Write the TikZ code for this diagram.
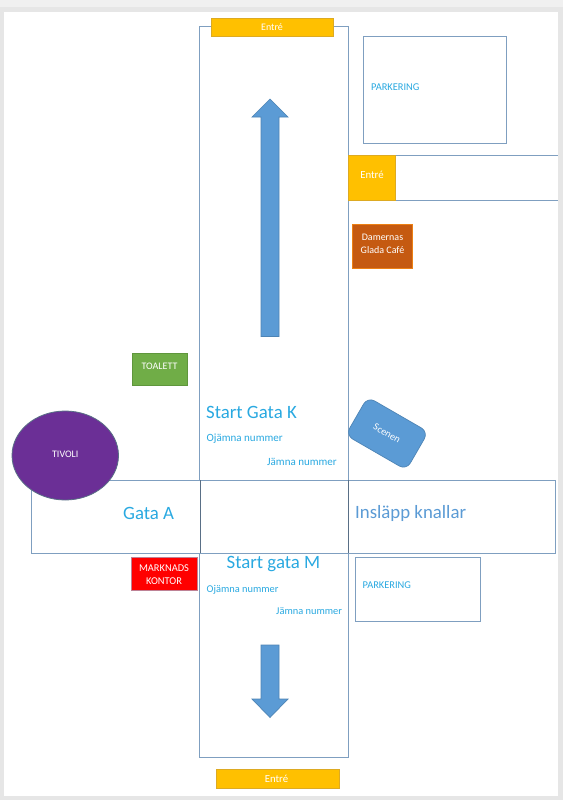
\documentclass[tikz,border=0pt]{standalone}
\usepackage{fontspec}
\setmainfont{Carlito}
\usetikzlibrary{shapes.geometric,shapes.arrows}
\definecolor{roadline}{HTML}{7F9FC0}
\definecolor{cyantext}{HTML}{29A9E1}
\definecolor{bluefill}{HTML}{5B9BD5}
\definecolor{amber}{HTML}{FFC000}
\definecolor{amberline}{HTML}{DDAA22}
\definecolor{pagebg}{HTML}{E6E6E6}
\newcommand{\fsz}[1]{\fontsize{#1}{13}\selectfont}
\tikzset{
  road/.style={draw=roadline,line width=1pt,fill=white,inner sep=0pt},
  entrybox/.style={draw=amberline,fill=amber,line width=.8pt},
  whitetext/.style={text=white,align=center,inner sep=0pt,font=\fsz{10}},
  solidbox/.style={line width=.8pt},
  small/.style={text=cyantext,font=\fsz{10.4},anchor=west,inner sep=0pt},
  big/.style={text=cyantext,font=\fontsize{18.8}{20}\selectfont,anchor=west,inner sep=0pt},
  flowarrow/.style={draw=bluefill!85!black,fill=bluefill,line width=.7pt}
}
\begin{document}
\begin{tikzpicture}[x=1pt,y=-1pt]
\useasboundingbox (0,0) rectangle (563,800);
\fill[pagebg] (0,0) rectangle (563,800);
\fill[white!94!black] (0,0) rectangle (563,7);
\fill[white] (4,12) rectangle (558,796);
% roads
\draw[road] (199.5,27) rectangle (348.5,757);
\coordinate (entryroadA) at (348.5,155);
\coordinate (entryroadB) at (558,155);
\coordinate (entryroadC) at (558,200.5);
\coordinate (entryroadD) at (348.5,200.5);
\draw[road] (entryroadA) -- (entryroadB) (entryroadD) -- (entryroadC);
\draw[road] (31.5,480) rectangle (200,553);
\draw[road] (200,480) rectangle (348.5,553);
\draw[road] (348.5,480) rectangle (555.5,553);
\draw[road,line width=1.3pt,draw=roadline!70!black] (200.3,480) -- (200.3,553) (348.5,480) -- (348.5,553);
% parking
\draw[road] (363,36.5) rectangle (506,143.5);
\draw[road] (355.5,557) rectangle (480,621.5);
\node[small] (park1) at (371,87) {PARKERING};
\node[small] (park2) at (362.5,585.5) {PARKERING};
% entries
\path[entrybox] (211,18) rectangle (333,36.5);
\node[whitetext] (entrytop) at (272,27.5) {Entré};
\path[entrybox] (348.5,155) rectangle (395.5,200.5);
\node[whitetext,font=\fsz{10.8}] (entryright) at (372,174.5) {Entré};
\path[entrybox] (216,769) rectangle (339,788.5);
\node[whitetext,font=\fsz{10.8}] (entrybottom) at (276.5,779) {Entré};
% solid boxes
\path[solidbox,draw=orange!70!brown,fill={rgb,255:red,197;green,90;blue,17}] (352,224.5) rectangle (412.5,268.5);
\node[whitetext] (cafe) at (382.5,244) {Damernas\\Glada Café};
\path[solidbox,draw={rgb,255:red,95;green,150;blue,60},fill={rgb,255:red,112;green,173;blue,71}] (132,353) rectangle (187,385);
\node[whitetext] (toalett) at (159.5,366) {TOALETT};
\path[solidbox,draw={rgb,255:red,190;green,130;blue,150},fill=red] (131,557.5) rectangle (197,590);
\node[whitetext,font=\fsz{10.4}] (kontor) at (164,575) {MARKNADS\\KONTOR};
% tivoli
\node[ellipse,draw=roadline!70!black,fill={rgb,255:red,107;green,47;blue,150},line width=.8pt,minimum width=106.5pt,minimum height=89pt,inner sep=0pt,whitetext] (tivoli) at (65.25,455.5) {\raisebox{3.5pt}{TIVOLI}};
% stage
\node[rectangle,rounded corners=8pt,draw=bluefill!85!black,fill=bluefill,line width=.7pt,minimum width=70pt,minimum height=44pt,rotate=-30,whitetext] (scenen) at (387,433.5) {Scenen};
% arrows
\draw[flowarrow] (270,99) -- (288,117) -- (279,117) -- (279,336.5) -- (261,336.5) -- (261,117) -- (252,117) -- cycle;
\draw[flowarrow] (270,717.5) -- (288,699) -- (279,699) -- (279,645) -- (261,645) -- (261,699) -- (252,699) -- cycle;
% labels
\node[big] (gatak) at (206,412) {Start Gata K};
\node[small,font=\fsz{11}] (oddk) at (206.5,439) {Ojämna nummer};
\node[small,font=\fsz{11}] (evenk) at (267,461.5) {Jämna nummer};
\node[big] (gataa) at (123,513) {Gata A};
\node[big,text=bluefill] (knallar) at (355,513) {Insläpp knallar};
\node[big] (gatam) at (226.5,564) {Start gata M};
\node[small] (oddm) at (206.5,590) {Ojämna nummer};
\node[small] (evenm) at (276,611) {Jämna nummer};
\end{tikzpicture}
\end{document}
